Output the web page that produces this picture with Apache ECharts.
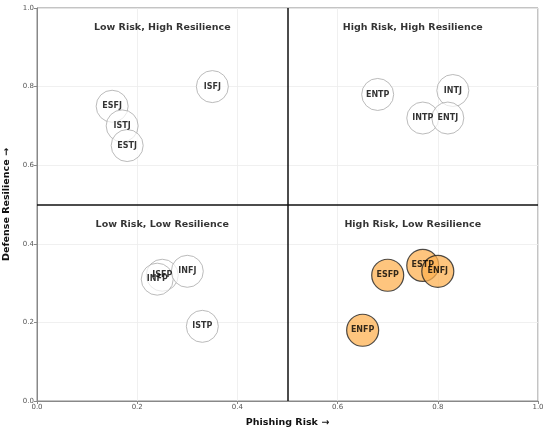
<!DOCTYPE html>
<html><head><meta charset="utf-8">
<script src="https://cdn.jsdelivr.net/npm/echarts@6/dist/echarts.min.js"></script>
<style>html,body{margin:0;padding:0;background:#fff}#c{width:550px;height:433px}</style>
</head><body><div id="c"></div>
<script>
// MBTI types: [phishing risk, defense resilience]
const lowRiskTypes = ['ESFJ','ISTJ','ESTJ','ISFJ','ENTP','INTJ','INTP','ENTJ','ISFP','INFP','INFJ','ISTP'];
const lowRiskX = [0.15,0.17,0.18,0.35,0.68,0.83,0.77,0.82,0.25,0.24,0.30,0.33];
const lowRiskY = [0.75,0.70,0.65,0.80,0.78,0.79,0.72,0.72,0.32,0.31,0.33,0.19];
const highRiskTypes = ['ESFP','ESTP','ENFJ','ENFP'];
const highRiskX = [0.70,0.77,0.80,0.65];
const highRiskY = [0.32,0.345,0.33,0.18];
const quadrantTitles = ['Low Risk, High Resilience','High Risk, High Resilience','Low Risk, Low Resilience','High Risk, Low Resilience'];
const quadrantX = [0.25,0.75,0.25,0.75];
const quadrantY = [0.95,0.95,0.45,0.45];
const ticks = [0,0.2,0.4,0.6,0.8,1.0];

const FONT = 'DejaVu Sans';
function pts(names, xs, ys){ return names.map((n,i)=>({name:n, value:[xs[i], ys[i]]})); }

const chart = echarts.init(document.getElementById('c'), null, {renderer:'canvas'});
const axisCommon = {
  min:0, max:1, interval:0.2,
  axisLine:{show:true, onZero:false, lineStyle:{color:'#888', width:1}},
  axisTick:{show:true, length:3, lineStyle:{color:'#888'}},
  axisLabel:{fontFamily:FONT, fontSize:7, color:'#555', margin:3, formatter:v=>v.toFixed(1)},
  splitLine:{show:true, lineStyle:{color:'#ececec', width:0.8}},
  nameLocation:'middle',
  nameTextStyle:{fontFamily:FONT, fontSize:9.5, fontWeight:'bold', color:'#111'}
};
chart.setOption({
  animation:false,
  backgroundColor:'#fff',
  grid:{left:37, right:12, top:8, bottom:32, containLabel:false, outerBoundsMode:'none', show:true, borderColor:'#888', borderWidth:1},
  xAxis:Object.assign({}, axisCommon, {type:'value', name:'Phishing Risk →', nameGap:17}),
  yAxis:Object.assign({}, axisCommon, {type:'value', name:'Defense Resilience →', nameGap:25}),
  series:[
    {
      type:'scatter', symbol:'circle', symbolSize:1, silent:true,
      itemStyle:{color:'rgba(0,0,0,0)'},
      data:pts(quadrantTitles, quadrantX, quadrantY),
      label:{show:true, position:'inside', formatter:p=>p.name, fontFamily:FONT, fontSize:9.5, fontWeight:'bold', color:'#000'},
      markLine:{
        silent:true, symbol:'none', label:{show:false},
        lineStyle:{color:'#111', width:1.5, type:'solid'},
        data:[{xAxis:0.5},{yAxis:0.5}]
      },
      z:3
    },
    {
      type:'scatter', symbol:'circle', symbolSize:32,
      data:pts(lowRiskTypes, lowRiskX, lowRiskY),
      itemStyle:{color:'rgba(255,255,255,0.85)', borderColor:'#aaaaaa', borderWidth:1},
      label:{show:true, position:'inside', formatter:p=>p.name, fontFamily:FONT, fontSize:8, fontWeight:'bold', color:'#000'},
      z:4
    },
    {
      type:'scatter', symbol:'circle', symbolSize:32,
      data:pts(highRiskTypes, highRiskX, highRiskY),
      itemStyle:{color:'rgba(253,176,80,0.92)', borderColor:'#222', borderWidth:1.2},
      label:{show:true, position:'inside', formatter:p=>p.name, fontFamily:FONT, fontSize:8, fontWeight:'bold', color:'#000'},
      z:5
    }
  ]
});
</script></body></html>
